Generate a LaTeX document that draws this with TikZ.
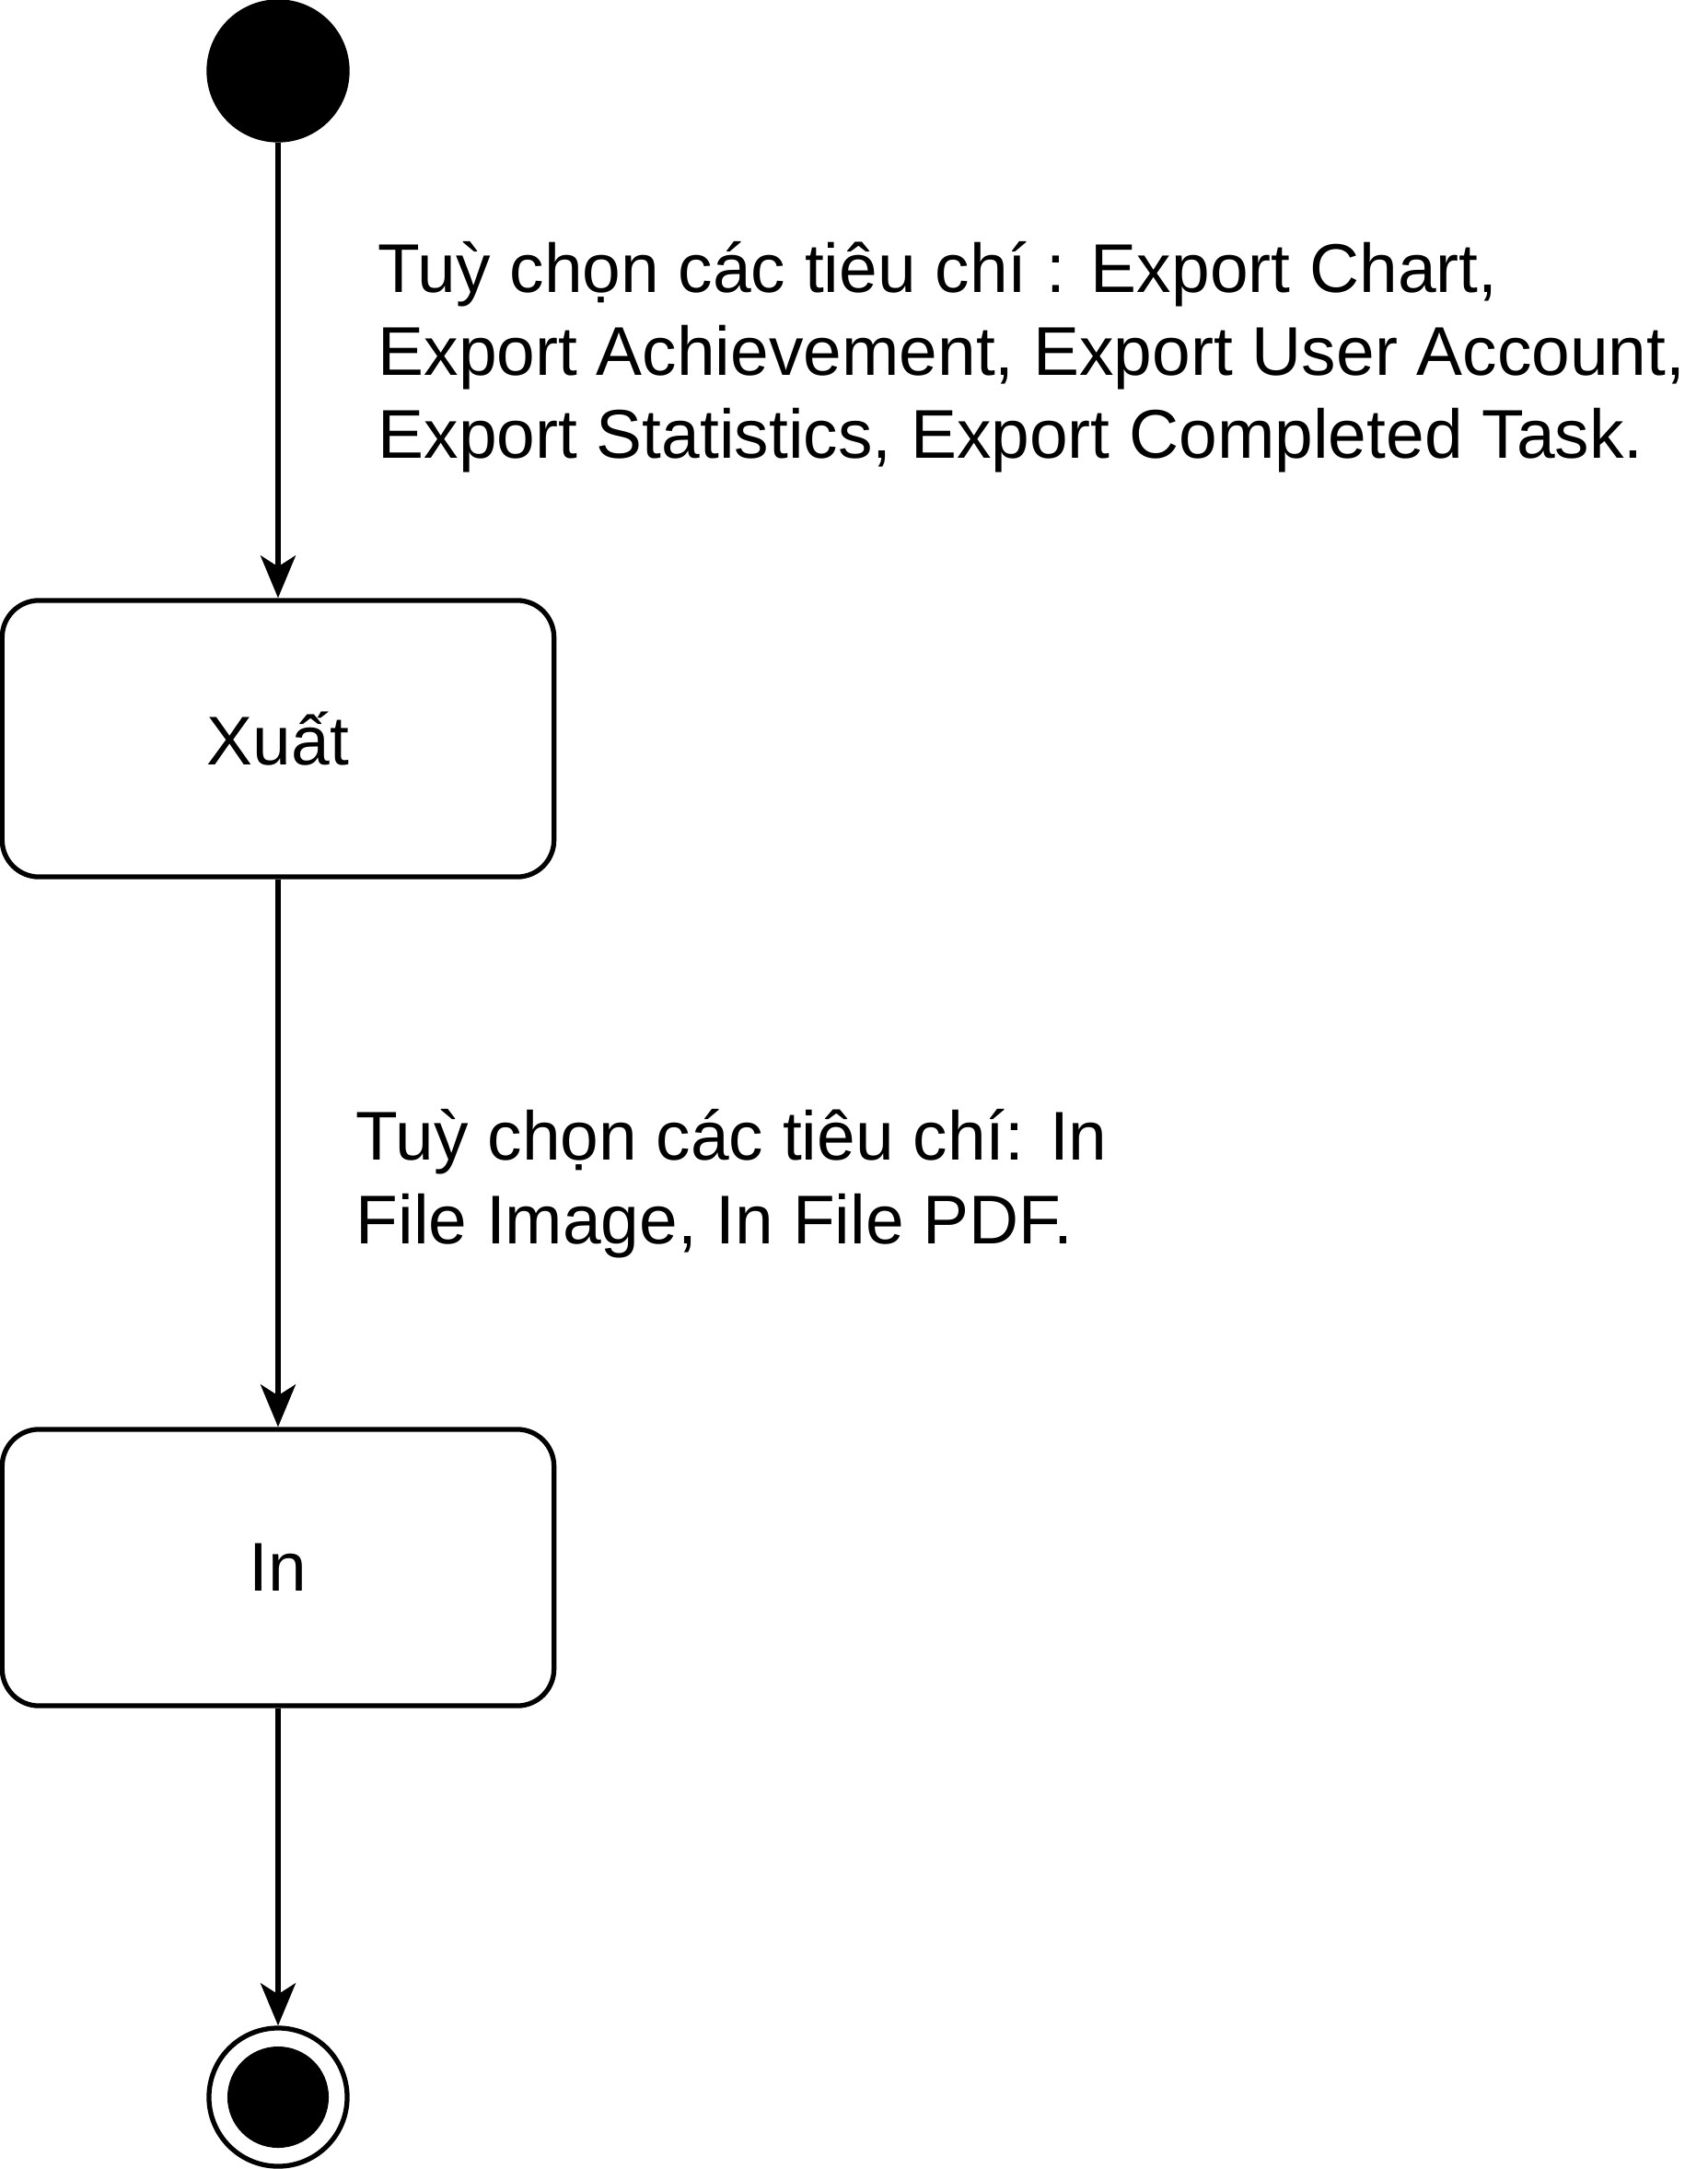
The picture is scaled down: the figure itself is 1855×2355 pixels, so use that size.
\documentclass[tikz,border=0pt]{standalone}
\usepackage{fontspec}
\setmainfont{Liberation Sans}
\usetikzlibrary{arrows.meta}

\begin{document}
\begin{tikzpicture}[x=0.01cm, y=-0.01cm,
		every node/.style = {font=\fontsize{21.3pt}{25.6pt}\selectfont},
		initstate/.style = {circle, fill=black, draw=black, line width=1.5pt, minimum size=1.5cm, inner sep=0pt},
		finalstate/.style = {circle, draw=black, line width=1.5pt, minimum size=1.5cm, inner sep=0pt},
		statebox/.style = {rectangle, rounded corners=0.4cm, draw=black, line width=1.5pt, minimum width=5.99cm, minimum height=3cm},
		guard/.style = {align=left, inner sep=0pt, anchor=base west},
		trans/.style = {-{Stealth[length=0.46cm, width=0.38cm, inset=0.12cm]}, line width=1.5pt}]
				\useasboundingbox (0,0) rectangle (1855,2355);
				\node[initstate] (start) at (302,77) {};
				\node[statebox] (xuat) at (302,802) {Xuất};
				\node[statebox] (in) at (302,1702) {In};
				\node[finalstate] (end) at (302,2277) {};
				\fill (end.center) circle (0.55cm);
				\draw[trans] (start) -- (xuat);
				\draw[trans] (xuat) -- (in);
				\draw[trans] (in) -- (end);
				% base anchor sits on the last line
				\node[guard] (g1) at (410,498) {Tuỳ chọn các tiêu chí : Export Chart,\\Export Achievement, Export User Account,\\Export Statistics, Export Completed Task.};
				\node[guard] (g2) at (386,1350) {Tuỳ chọn các tiêu chí: In\\File Image, In File PDF.};
			\end{tikzpicture}
\end{document}
